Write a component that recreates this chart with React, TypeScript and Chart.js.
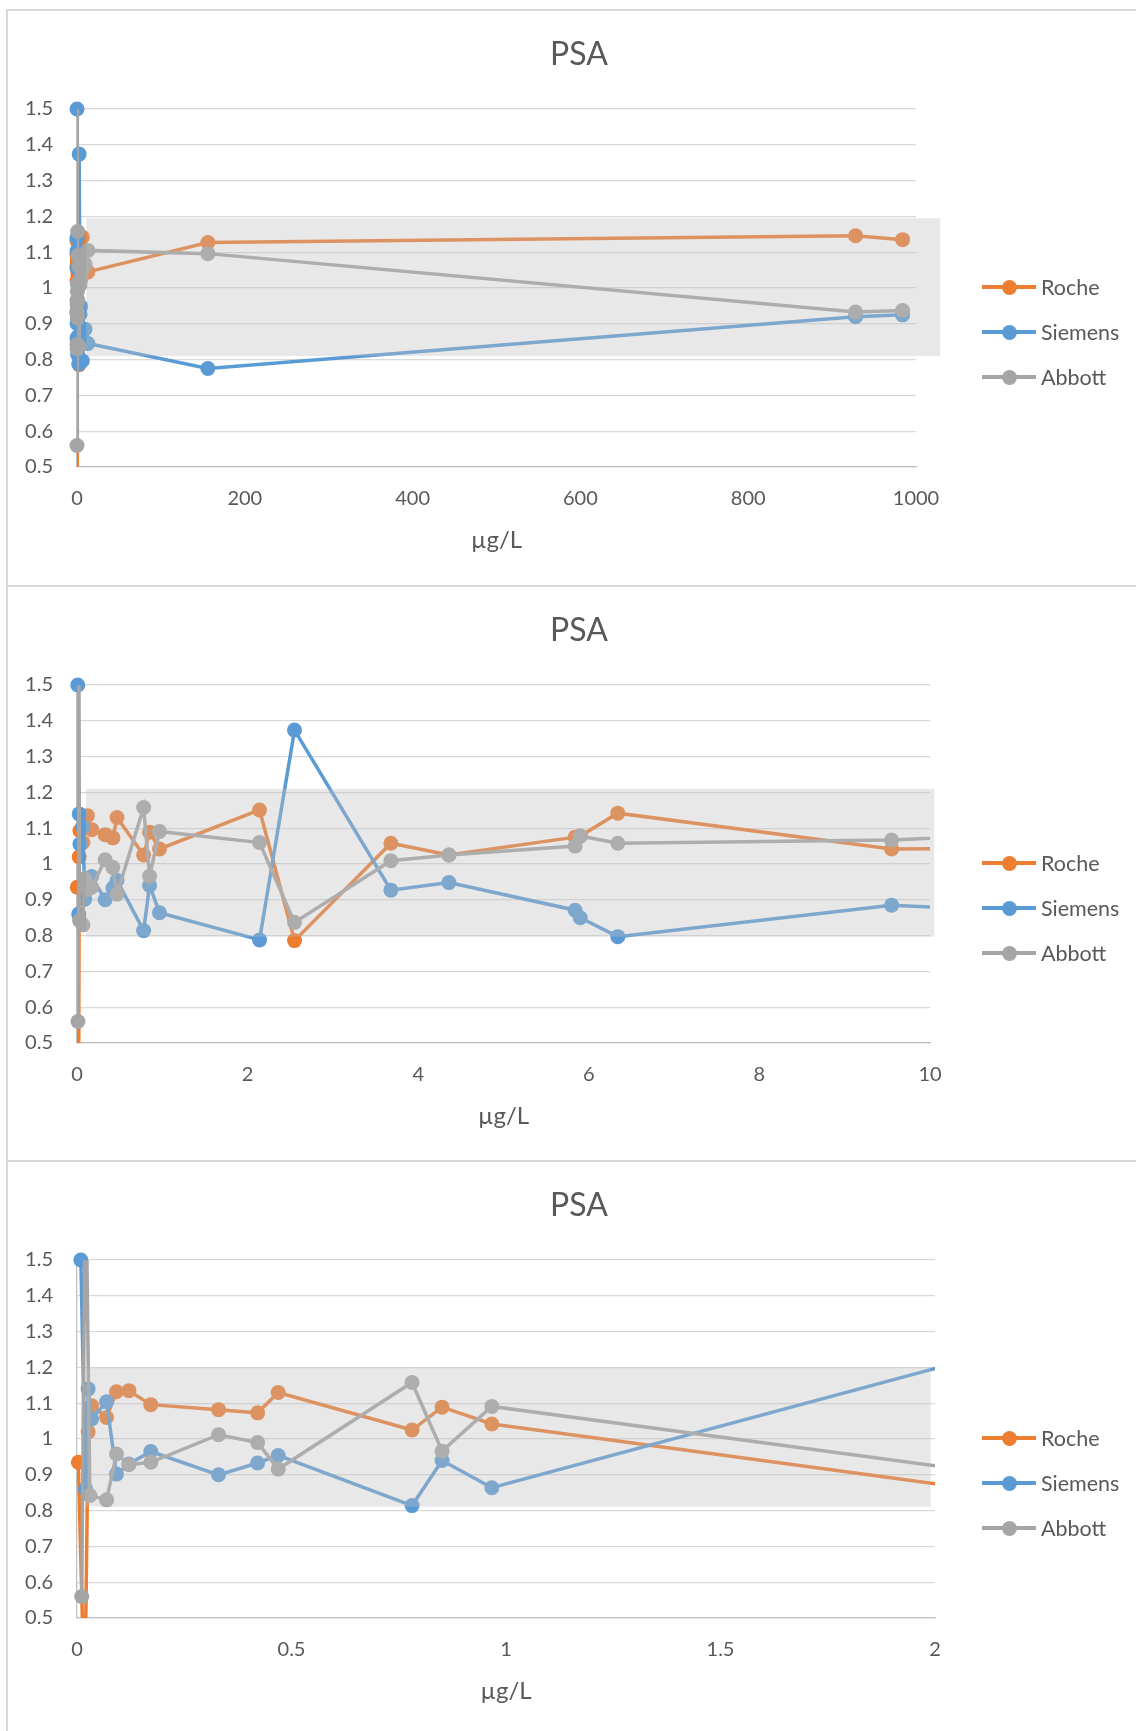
import { useEffect, useRef } from 'react'
import { Chart, registerables } from 'chart.js'

Chart.register(...registerables)

// x = concentration (µg/L), y = ratio
const rocheX = [0.003, 0.018, 0.026, 0.034, 0.069, 0.092, 0.121, 0.172, 0.33, 0.421, 0.469, 0.781, 0.851, 0.967, 2.14, 2.55, 3.68, 4.36, 5.84, 5.9, 6.34, 9.55, 13, 156, 928, 984]
const rocheY = [0.935, 0.25, 1.02, 1.093, 1.06, 1.132, 1.135, 1.096, 1.082, 1.073, 1.13, 1.025, 1.089, 1.042, 1.151, 0.786, 1.058, 1.025, 1.075, 1.078, 1.142, 1.042, 1.045, 1.127, 1.146, 1.135]

const siemensX = [0.009, 0.02, 0.026, 0.034, 0.069, 0.092, 0.121, 0.172, 0.33, 0.421, 0.469, 0.781, 0.851, 0.967, 2.14, 2.55, 3.68, 4.36, 5.84, 5.9, 6.34, 9.55, 13, 156, 928, 984]
const siemensY = [1.5, 0.86, 1.14, 1.056, 1.104, 0.902, 0.93, 0.965, 0.9, 0.933, 0.954, 0.814, 0.94, 0.864, 0.788, 1.374, 0.927, 0.948, 0.871, 0.85, 0.797, 0.885, 0.845, 0.775, 0.92, 0.925]

const abbottX = [0.011, 0.02, 0.03, 0.069, 0.092, 0.121, 0.172, 0.33, 0.421, 0.469, 0.781, 0.851, 0.967, 2.14, 2.55, 3.68, 4.36, 5.84, 5.9, 6.34, 9.55, 13, 156, 928, 984]
const abbottY = [0.56, 1.8, 0.842, 0.83, 0.958, 0.928, 0.935, 1.012, 0.99, 0.916, 1.158, 0.966, 1.091, 1.06, 0.837, 1.009, 1.025, 1.05, 1.078, 1.058, 1.067, 1.105, 1.096, 0.933, 0.937]

const yTicks = [0.5, 0.6, 0.7, 0.8, 0.9, 1, 1.1, 1.2, 1.3, 1.4, 1.5]
const xTicksWide = [0, 200, 400, 600, 800, 1000]
const xTicksMid = [0, 2, 4, 6, 8, 10]
const xTicksLow = [0, 0.5, 1, 1.5, 2]

// grey reference band: [xFrom, xTo, yLow, yHigh]
const bandWide = [11, 1029, 0.81, 1.195]
const bandMid = [0.105, 10.05, 0.797, 1.21]
const bandLow = [0.019, 1.99, 0.811, 1.2]

// the 0-2 chart has no point at 2.14
const lowOmits = [2.14]

const series = [
  { label: 'Roche', color: '#ED7D31', xs: rocheX, ys: rocheY },
  { label: 'Siemens', color: '#5B9BD5', xs: siemensX, ys: siemensY },
  { label: 'Abbott', color: '#A5A5A5', xs: abbottX, ys: abbottY },
]

const panels = [
  { top: 9, ticks: xTicksWide, band: bandWide, areaRight: 909, omit: [] as number[] },
  { top: 585, ticks: xTicksMid, band: bandMid, areaRight: 923, omit: [] as number[] },
  { top: 1160, ticks: xTicksLow, band: bandLow, areaRight: 928, omit: lowOmits },
]

const W = 1129
const H = 575
const TEXT = '#595959'
const FONT = 'Lato, "Open Sans", sans-serif'

const bandPlugin = {
  id: 'band',
  afterDatasetsDraw(chart: any, _args: any, opts: any) {
    const { ctx, scales } = chart
    const [x0, x1, y0, y1] = opts.range
    const left = scales.x.getPixelForValue(x0)
    const right = scales.x.getPixelForValue(x1)
    const top = scales.y.getPixelForValue(y1)
    const bottom = scales.y.getPixelForValue(y0)
    ctx.save()
    ctx.fillStyle = 'rgba(189,189,189,0.35)'
    ctx.fillRect(left, top, right - left, bottom - top)
    ctx.restore()
  },
}

function PsaChart({ panel }: { panel: typeof panels[number] }) {
  const chartRef = useRef<HTMLCanvasElement>(null)

  useEffect(() => {
    if (!chartRef.current) return
    const datasets: any[] = []
    series.forEach((s, i) => {
      const data = s.xs
        .map((x, k) => ({ x, y: s.ys[k] }))
        .filter(p => !panel.omit.includes(p.x))
      // line and markers as separate datasets so lines clip at the plot edge but markers don't
      datasets.push({
        label: s.label,
        data,
        showLine: true,
        borderColor: s.color,
        borderWidth: 3.5,
        pointRadius: 0,
        clip: 0,
        order: 2 * (2 - i) + 1,
      })
      datasets.push({
        label: s.label,
        data,
        showLine: false,
        backgroundColor: s.color,
        borderWidth: 0,
        pointRadius: 7.5,
        pointHoverRadius: 7.5,
        clip: { left: 10, top: 10, right: 0, bottom: 0 },
        order: 2 * (2 - i),
      })
    })

    const chart = new Chart(chartRef.current, {
      type: 'scatter',
      data: { datasets },
      plugins: [bandPlugin],
      options: {
        animation: false,
        responsive: false,
        events: [],
        layout: { padding: { left: 0, top: 100, right: W - panel.areaRight, bottom: 0 } },
        plugins: {
          legend: { display: false },
          title: { display: false },
          tooltip: { enabled: false },
          band: { range: panel.band },
        } as any,
        scales: {
          x: {
            type: 'linear',
            min: panel.ticks[0],
            max: panel.ticks[panel.ticks.length - 1],
            afterBuildTicks: (scale: any) => {
              scale.ticks = panel.ticks.map(v => ({ value: v }))
            },
            afterFit: (scale: any) => {
              scale.height = H - 458
            },
            ticks: {
              callback: (v: any) => String(v),
              color: TEXT,
              font: { family: FONT, size: 20 },
              padding: 20,
              maxRotation: 0,
            },
            grid: { display: false, drawTicks: false },
            border: { display: true, color: '#BFBFBF', width: 1.3 },
            title: {
              display: true,
              text: 'µg/L',
              color: TEXT,
              font: { family: FONT, size: 24 },
              padding: { top: 0, bottom: 29 },
            },
          },
          y: {
            type: 'linear',
            min: 0.5,
            max: 1.5,
            afterBuildTicks: (scale: any) => {
              scale.ticks = yTicks.map(v => ({ value: v }))
            },
            afterFit: (scale: any) => {
              scale.width = 70
            },
            ticks: {
              callback: (v: any) => String(v),
              color: TEXT,
              font: { family: FONT, size: 20 },
              padding: 24,
            },
            grid: { color: '#D9D9D9', lineWidth: 1.3, drawTicks: false },
            border: { display: true, color: '#BFBFBF', width: 1.3 },
          },
        },
      } as any,
    })

    return () => {
      chart.destroy()
    }
  }, [panel])

  const legendY = [278, 323, 368]

  return (
    <div style={{ position: 'absolute', left: 7, top: panel.top, width: W, height: H }}>
      <canvas ref={chartRef} width={W} height={H} style={{ position: 'absolute', left: 0, top: 0 }}></canvas>
      <div
        style={{
          position: 'absolute',
          left: 0,
          top: 25,
          width: 1144,
          textAlign: 'center',
          fontFamily: FONT,
          fontSize: 32,
          lineHeight: '38px',
          color: TEXT,
        }}
      >
        PSA
      </div>
      {series.map((s, i) => (
        <div key={s.label}>
          <div style={{ position: 'absolute', left: 975, top: legendY[i] - 1.75, width: 54, height: 3.5, background: s.color }} />
          <div style={{ position: 'absolute', left: 994.5, top: legendY[i] - 7.5, width: 15, height: 15, borderRadius: '50%', background: s.color }} />
          <div
            style={{
              position: 'absolute',
              left: 1034,
              top: legendY[i] - 13,
              lineHeight: '26px',
              fontFamily: FONT,
              fontSize: 21.5,
              color: TEXT,
              whiteSpace: 'nowrap',
            }}
          >
            {s.label}
          </div>
        </div>
      ))}
    </div>
  )
}

export default function App() {
  return (
    <div style={{ position: 'relative', width: 1136, height: 1731, overflow: 'hidden', background: '#fff' }}>
      <style>{'body{margin:0}'}</style>
      <div style={{ position: 'absolute', left: 6, top: 9, width: 2, height: 1731, background: '#D9D9D9' }} />
      {panels.map(p => (
        <div key={'line' + p.top} style={{ position: 'absolute', left: 6, top: p.top, width: 1136, height: 2, background: '#D9D9D9' }} />
      ))}
      {panels.map(p => (
        <PsaChart key={p.top} panel={p} />
      ))}
    </div>
  )
}
